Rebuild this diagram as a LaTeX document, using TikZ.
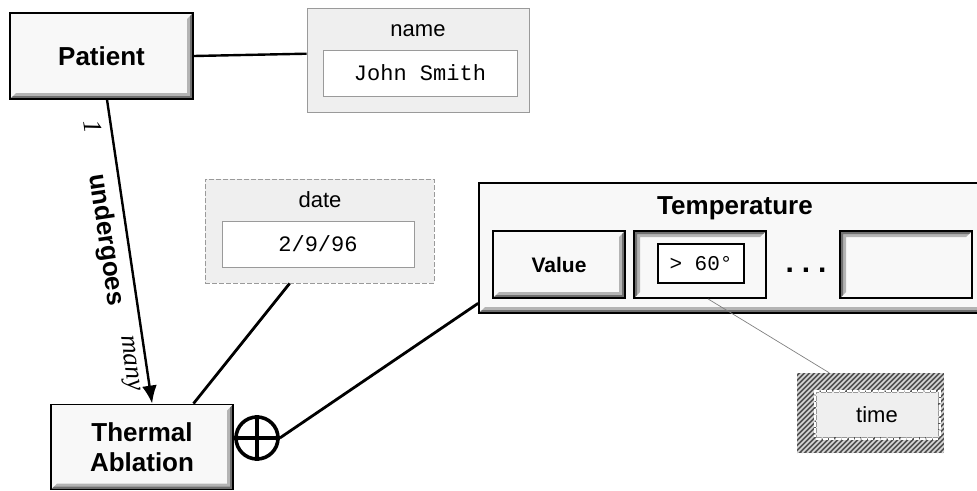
\documentclass[tikz,border=0pt]{standalone}
\usepackage{fontspec}
\setmainfont{Liberation Sans}
\setmonofont{Liberation Mono}
\newfontfamily\serifit{Liberation Serif}
\usetikzlibrary{arrows.meta,calc}
\definecolor{boxfill}{HTML}{F8F8F8}
\definecolor{attfill}{HTML}{EFEFEF}
\definecolor{attline}{HTML}{9A9A9A}
\definecolor{bevdark}{HTML}{707070}
\definecolor{bevlight}{HTML}{B4B4B4}
\definecolor{hatchbg}{HTML}{505050}
\definecolor{hatchfg}{HTML}{D8D8D8}
\tikzset{
  raised/.style={draw=black, line width=1.8pt, fill=boxfill, inner sep=0pt,
    path picture={
      \fill[bevlight] (path picture bounding box.north east) -- (path picture bounding box.south east)
        -- (path picture bounding box.south west) -- ([xshift=6pt,yshift=6pt]path picture bounding box.south west)
        -- ([xshift=-6pt,yshift=6pt]path picture bounding box.south east)
        -- ([xshift=-6pt,yshift=-6pt]path picture bounding box.north east) -- cycle;
      \fill[bevdark] (path picture bounding box.north east) -- (path picture bounding box.south east)
        -- (path picture bounding box.south west) -- ([xshift=3pt,yshift=3pt]path picture bounding box.south west)
        -- ([xshift=-3pt,yshift=3pt]path picture bounding box.south east)
        -- ([xshift=-3pt,yshift=-3pt]path picture bounding box.north east) -- cycle;
    }},
  sunken/.style={draw=black, line width=1.8pt, fill=boxfill, inner sep=0pt,
    path picture={
      \fill[bevlight] (path picture bounding box.south west) -- (path picture bounding box.north west)
        -- (path picture bounding box.north east) -- ([xshift=-6pt,yshift=-6pt]path picture bounding box.north east)
        -- ([xshift=6pt,yshift=-6pt]path picture bounding box.north west)
        -- ([xshift=6pt,yshift=6pt]path picture bounding box.south west) -- cycle;
      \fill[bevdark] (path picture bounding box.south west) -- (path picture bounding box.north west)
        -- (path picture bounding box.north east) -- ([xshift=-3pt,yshift=-3pt]path picture bounding box.north east)
        -- ([xshift=3pt,yshift=-3pt]path picture bounding box.north west)
        -- ([xshift=3pt,yshift=3pt]path picture bounding box.south west) -- cycle;
    }},
  attbox/.style={draw=attline, line width=0.9pt, fill=attfill, inner sep=0pt},
  valbox/.style={draw=attline, line width=0.9pt, fill=white, inner sep=0pt,
    font=\fontsize{22}{24}\selectfont\ttfamily},
  hatched/.style={fill=hatchbg, inner sep=0pt,
    path picture={
      \foreach \i in {-90,-85,...,150}
        \draw[hatchfg, line width=1.6pt] ([xshift=\i pt]path picture bounding box.south west) -- ++(100pt,100pt);
    }},
  timeinner/.style={draw=attline, line width=0.9pt, dash pattern=on 5pt off 1.5pt, fill=attfill, inner sep=0pt,
    preaction={draw=white, line width=5pt}},
  bigbold/.style={font=\fontsize{26}{30}\selectfont\bfseries},
  lbl/.style={font=\fontsize{22}{24}\selectfont},
  conn/.style={line width=2.8pt},
  cardlbl/.style={font=\fontsize{26}{26}\selectfont\serifit\itshape},
}
\begin{document}
\begin{tikzpicture}[x=1pt,y=-1pt]
\useasboundingbox (0,0) rectangle (977,490);
\clip (0,0) rectangle (977,490);

% entities
\node[raised, minimum width=183pt, minimum height=86pt, bigbold] (patient) at (101.5,56) {Patient};
\node[raised, minimum width=182pt, minimum height=85pt, bigbold, align=center] (thermal) at (142,447) {Thermal\\Ablation};

% name attribute
\node[attbox, minimum width=222pt, minimum height=104pt] (namebox) at (418,60) {};
\node[lbl] (namelbl) at (418,31) {name};
\node[valbox, minimum width=194pt, minimum height=46pt] (nameval) at (420,73) {John Smith};

% date attribute
\node[attbox, dash pattern=on 5pt off 2pt, minimum width=229pt, minimum height=104pt] (datebox) at (319.5,231) {};
\node[lbl] (datelbl) at (320,200) {date};
\node[valbox, minimum width=192pt, minimum height=46pt] (dateval) at (318,244) {2/9/96};

% aggregation symbol
\node[circle, draw, line width=3.6pt, minimum size=42pt, inner sep=0pt] (oplus) at (257,438) {};
\draw[line width=3.6pt] (oplus.north) -- (oplus.south) (oplus.west) -- (oplus.east);

% temperature
\node[raised, minimum width=512pt, minimum height=130pt] (temp) at (735,248) {};
\node[bigbold] (templbl) at (735,208) {Temperature};
\node[raised, minimum width=132pt, minimum height=67pt, font=\fontsize{21}{24}\selectfont\bfseries] (value) at (559,264.5) {Value};
\node[sunken, minimum width=132pt, minimum height=67pt] (box2) at (700,264.5) {};
\node[draw, line width=1.8pt, fill=white, minimum width=86pt, minimum height=39pt, inner sep=0pt,
  font=\fontsize{21}{24}\selectfont\ttfamily] (box2val) at (701,263.5) {> 60°};
\node[font=\fontsize{30}{32}\selectfont\bfseries] (dots) at (806,270) {.\hspace{8pt}.\hspace{8pt}.};
\node[sunken, minimum width=132pt, minimum height=67pt] (box3) at (906,264.5) {};

% time
\node[hatched, minimum width=147pt, minimum height=80pt] (timebox) at (870.5,413) {};
\node[timeinner, minimum width=122pt, minimum height=45pt, lbl] (timeval) at (877,414.5) {time};

% connectors
\draw[line width=2.4pt] (patient.east) -- ($(namebox.north west)!0.44!(namebox.south west)$);
\draw[line width=2.4pt, -{Latex[length=18pt,width=15pt]}]
  ($(patient.south west)!0.53!(patient.south east)$) -- ($(thermal.north west)!0.555!(thermal.north east)$)
  node[sloped, below=5pt, pos=0.08, cardlbl] (one) {1}
  node[sloped, below=5pt, pos=0.45, bigbold] (undergoes) {undergoes}
  node[sloped, below=4pt, pos=0.86, cardlbl] (many) {many};
\draw[conn] ($(datebox.south west)!0.37!(datebox.south east)$) -- ($(thermal.north west)!0.78!(thermal.north east)$);
\draw[conn] (oplus.east) -- ($(temp.north west)!0.92!(temp.south west)$);
\draw[line width=0.7pt, gray] ($(box2.south west)!0.56!(box2.south east)$) -- ($(timebox.north west)!0.22!(timebox.north east)$);
\end{tikzpicture}
\end{document}
